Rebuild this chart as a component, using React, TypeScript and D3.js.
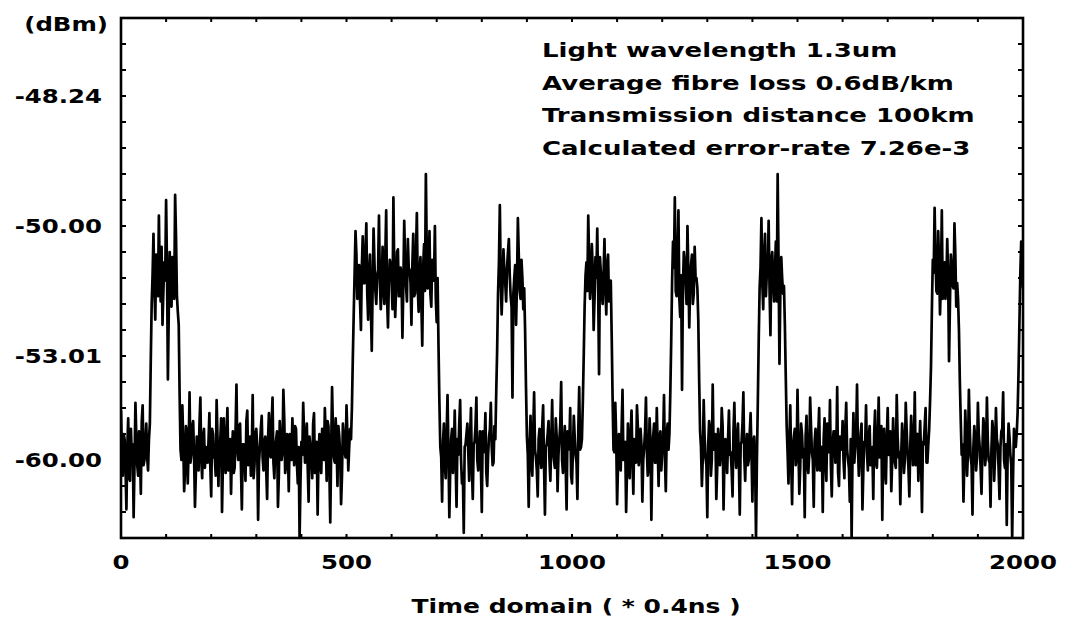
import React from "react";
import * as d3 from "d3";

// Received optical power (nW, linear). Time unit = 0.4 ns.
// Readings at samples 0, 4, 8, ... 2000 (one row per 64-sample bit slot)
const powerAt4k: number[] = [
  2.9, 0.4, 1.8, -0.9, 2.6, 0.2, 1.1, -1.2, 3.2, 0.8, 2.1, -0.3, 3.1, 1.0, 2.4, 0.6,
  2.4, 7.0, 9.7, 6.4, 8.3, 10.4, 7.1, 6.2, 8.6, 11.0, 4.1, 9.0, 6.9, 8.5, 11.2, 7.3,
  6.2, 1.4, 3.1, -0.2, 2.3, 0.1, 3.6, 1.2, 2.5, -0.8, 1.9, 0.6, 3.4, 0.3, 2.2, 1.5,
  0.9, 2.8, -0.4, 2.0, 1.1, 3.3, 0.0, 1.7, -1.0, 2.6, 0.5, 3.0, 1.4, -0.3, 2.1, 0.7,
  3.9, 1.0, 2.4, -0.9, 1.6, 0.2, 2.9, 1.3, 0.4, 3.5, 0.8, 2.2, -1.3, 1.5, 2.7, 0.6,
  1.9, -0.5, 2.8, 1.1, 3.4, 0.3, 1.8, -0.8, 2.5, 1.0, 3.7, 0.5, 2.0, -0.2, 1.4, 2.6,
  0.8, 2.2, 0.1, -2.0, 1.7, 3.2, 0.9, 2.4, -0.6, 1.5, 0.3, 2.8, 1.2, -1.1, 2.0, 0.5,
  1.6, 3.0, 0.2, 2.3, -1.4, 3.8, 1.1, 2.6, 0.0, 1.9, -0.7, 2.4, 1.3, 3.1, 0.6, 2.2,
  3.0, 6.6, 9.8, 7.2, 8.5, 6.0, 9.6, 7.8, 10.1, 6.4, 8.9, 5.2, 9.9, 7.5, 8.1, 10.4,
  6.8, 9.2, 7.0, 10.6, 6.1, 8.7, 7.9, 11.1, 6.5, 9.0, 7.3, 8.4, 5.7, 10.2, 7.7, 9.5,
  8.3, 6.2, 9.7, 7.4, 10.5, 6.7, 8.8, 5.4, 9.3, 12.0, 7.6, 9.8, 6.9, 8.6, 10.0, 6.3,
  5.4, 1.5, -0.6, 2.4, 0.3, 3.5, -1.2, 1.8, 0.5, 2.9, -0.8, 1.2, 3.3, 0.1, -1.8, 1.6,
  2.4, 0.2, 3.0, -0.5, 1.7, 3.4, 0.6, 2.1, -1.0, 1.3, 2.8, 0.0, 1.9, 3.2, 0.8, 2.3,
  3.6, 7.4, 10.8, 6.6, 9.1, 7.8, 8.4, 9.5, 7.3, 3.4, 8.0, 6.2, 10.3, 7.5, 8.7, 6.8,
  6.0, 1.9, -0.8, 2.7, 0.4, 3.6, 1.1, -0.4, 2.2, 0.7, 3.1, -1.1, 1.6, 2.5, 0.2, 3.3,
  1.0, 2.6, -0.2, 1.8, 4.0, 0.5, 2.3, -0.9, 1.4, 3.0, 0.1, 2.7, 1.2, -0.5, 3.8, 1.5,
  3.2, 6.9, 8.6, 10.4, 7.2, 9.3, 6.0, 8.8, 9.9, 4.3, 8.2, 7.0, 9.5, 6.6, 8.9, 7.6,
  5.8, 1.4, 3.2, -0.7, 2.0, 0.6, 3.7, 1.2, -1.0, 2.4, 0.3, 2.9, -0.3, 1.7, 3.1, 0.8,
  2.2, -0.6, 1.5, 3.4, 0.4, 2.6, -1.3, 1.9, 0.9, 3.0, 0.0, 2.1, 1.3, 3.5, -0.2, 2.4,
  2.0, 5.6, 9.4, 11.1, 7.3, 10.6, 6.5, 3.7, 9.0, 7.8, 10.0, 6.1, 8.5, 7.0, 9.2, 8.0,
  6.4, 2.1, 0.0, 3.3, 1.1, -1.2, 2.5, 0.4, 3.9, 1.6, -0.5, 2.2, 0.8, 3.0, -0.9, 1.8,
  0.5, 2.9, 1.3, -0.4, 3.2, 0.7, 2.4, -1.1, 1.7, 3.6, 0.2, 2.0, 1.0, 2.8, -0.6, 1.9,
  -2.0, 3.2, 7.6, 10.3, 6.8, 9.7, 8.2, 10.2, 5.8, 9.0, 7.1, 9.4, 12.0, 4.7, 8.8, 7.4,
  6.2, 2.3, 0.1, 3.1, -0.7, 1.9, 0.8, 3.7, -0.3, 2.4, 1.1, -1.2, 2.7, 0.5, 3.4, 1.3,
  -0.8, 2.2, 0.6, 3.0, 1.4, -1.0, 2.6, 0.2, 1.8, 3.3, -0.4, 2.1, 0.9, 3.8, 0.0, 1.6,
  2.5, 0.3, 3.2, 1.0, -0.6, -2.0, 2.8, 1.5, 3.9, 0.4, 2.0, -0.9, 1.7, 3.1, 0.6, 2.3,
  1.2, -0.5, 2.9, 0.7, 3.4, 1.5, -1.3, 2.2, 0.1, 3.0, 1.8, -0.2, 2.6, 0.9, 3.5, 1.1,
  -0.7, 2.4, 0.5, 3.2, 1.3, -0.4, 2.7, 0.8, 3.6, 1.9, 0.2, 2.5, -1.0, 1.6, 3.0, 0.9,
  2.2, 4.6, 8.7, 10.7, 7.5, 9.8, 6.6, 10.6, 8.1, 7.2, 9.5, 4.8, 8.9, 7.7, 10.1, 6.9,
  7.2, 4.0, 1.2, -0.6, 2.9, 0.4, 3.7, 1.1, -1.1, 2.3, 0.6, 3.2, 1.5, -0.3, 2.6, 0.8,
  3.4, 1.0, -0.8, 2.5, 0.2, 3.0, 1.6, -0.5, 2.1, 3.6, 0.7, -1.5, 2.4, 1.2, -2.0, 2.2,
  1.5, 2.8, 6.2, 9.4, 7.6,
];

// Readings at samples 2, 6, 10, ... 1998
const powerAt4kPlus2: number[] = [
  1.2, 2.0, 0.7, 1.5, 0.3, 2.2, 1.6, 0.9, 1.9, 0.4, 1.3, 2.5, 0.8, 1.7, 1.1, 1.8,
  4.8, 8.1, 7.6, 8.9, 7.3, 8.0, 9.2, 7.5, 7.9, 8.4, 6.8, 7.7, 8.8, 7.2, 9.6, 6.7,
  3.5, 1.0, 1.8, 0.6, 2.1, 1.4, 0.9, 2.3, 1.2, 0.5, 1.6, 2.4, 1.0, 1.9, 0.7, 1.3,
  1.7, 0.8, 2.2, 1.1, 0.4, 1.9, 1.5, 2.6, 0.9, 1.2, 2.0, 0.6, 1.8, 1.3, 0.5, 2.1,
  1.4, 2.3, 0.7, 1.6, 1.0, 2.5, 0.8, 1.9, 1.3, 0.3, 2.0, 1.5, 0.9, 2.2, 1.1, 1.7,
  0.6, 1.8, 1.2, 2.4, 0.9, 1.5, 2.1, 0.4, 1.7, 1.3, 2.6, 0.8, 1.4, 2.0, 1.0, 1.6,
  2.3, 0.9, 1.5, 0.2, 1.2, 2.0, 1.6, 0.7, 1.9, 1.1, 2.4, 0.5, 1.7, 1.3, 0.8, 2.2,
  1.0, 1.8, 2.5, 0.6, 1.4, 2.1, 0.9, 1.6, 2.3, 1.2, 0.4, 1.9, 1.1, 2.0, 1.5, 1.8,
  4.9, 8.2, 8.9, 7.6, 7.1, 8.4, 7.8, 9.0, 7.4, 8.1, 6.9, 7.7, 8.6, 7.0, 8.3, 7.9,
  7.5, 8.0, 8.8, 7.2, 7.9, 8.5, 6.8, 8.2, 7.6, 9.1, 7.3, 8.0, 7.7, 8.6, 7.1, 8.4,
  7.8, 8.5, 7.3, 8.9, 7.6, 8.1, 7.0, 8.4, 7.5, 9.0, 8.2, 7.4, 8.7, 7.9, 7.2, 8.0,
  3.2, 1.1, 1.7, 0.8, 2.0, 1.4, 0.6, 2.2, 1.3, 0.9, 1.8, 2.4, 1.0, 0.5, 1.5, 2.0,
  1.3, 1.9, 0.7, 1.6, 2.3, 1.0, 1.4, 0.8, 2.1, 1.7, 0.5, 1.2, 2.2, 1.5, 0.9, 1.8,
  5.2, 8.6, 8.0, 7.7, 8.3, 7.1, 9.0, 8.1, 6.9, 7.4, 8.5, 7.8, 8.9, 7.2, 8.0, 7.6,
  3.8, 1.2, 1.6, 0.9, 2.1, 1.4, 0.6, 1.8, 1.1, 2.3, 0.8, 1.5, 2.0, 1.0, 1.7, 1.3,
  0.7, 1.9, 1.2, 2.4, 1.0, 1.5, 0.8, 2.1, 1.6, 0.4, 1.3, 1.9, 0.9, 2.2, 1.4, 1.8,
  5.0, 8.1, 7.5, 8.7, 7.9, 8.3, 7.2, 8.0, 7.6, 8.8, 7.4, 8.2, 7.7, 8.5, 7.1, 7.9,
  3.4, 1.3, 1.9, 0.8, 1.5, 2.2, 1.0, 1.7, 0.6, 1.4, 2.0, 1.1, 1.8, 0.9, 2.3, 1.2,
  1.6, 1.0, 2.1, 1.3, 0.7, 1.8, 1.2, 2.4, 0.9, 1.5, 1.9, 0.6, 1.7, 1.1, 2.0, 1.4,
  3.6, 7.9, 8.4, 7.5, 8.8, 7.2, 8.1, 7.7, 8.6, 7.0, 8.3, 7.8, 8.9, 7.4, 8.0, 7.6,
  4.0, 1.5, 1.1, 1.9, 0.8, 1.6, 2.2, 1.0, 1.4, 2.0, 0.7, 1.7, 1.3, 2.3, 1.0, 1.5,
  1.8, 1.2, 0.6, 2.1, 1.4, 1.9, 0.9, 1.6, 2.4, 1.1, 1.5, 0.8, 2.0, 1.3, 1.7, 0.9,
  1.0, 5.6, 8.4, 7.8, 8.9, 7.3, 8.2, 7.6, 8.7, 7.9, 8.3, 7.1, 8.6, 7.5, 8.0, 7.7,
  4.2, 1.3, 1.8, 0.9, 1.5, 2.2, 1.1, 1.6, 0.7, 2.0, 1.4, 1.9, 0.8, 1.2, 2.3, 1.0,
  1.7, 1.1, 2.0, 0.6, 1.5, 1.8, 1.0, 2.4, 1.3, 0.8, 1.6, 2.1, 1.2, 0.5, 1.9, 1.4,
  1.0, 2.2, 1.4, 0.7, 1.8, 1.2, 0.9, 2.0, 1.5, 1.1, 2.4, 0.6, 1.6, 1.3, 1.9, 0.8,
  1.5, 2.0, 0.9, 1.7, 1.1, 2.3, 1.4, 0.6, 1.8, 1.2, 2.1, 1.0, 1.6, 0.7, 1.9, 1.3,
  1.2, 1.8, 1.0, 2.2, 0.7, 1.5, 1.9, 1.3, 0.8, 2.0, 1.4, 1.1, 1.7, 2.3, 0.9, 1.6,
  3.3, 6.8, 8.2, 8.8, 7.4, 8.5, 7.9, 7.2, 8.6, 7.7, 8.1, 7.0, 8.4, 7.6, 8.9, 7.8,
  6.0, 2.5, 1.6, 1.0, 1.9, 1.3, 2.2, 0.8, 1.5, 1.8, 1.1, 2.0, 0.7, 1.4, 2.3, 1.2,
  1.7, 0.9, 1.4, 2.1, 1.1, 1.8, 0.6, 1.5, 2.2, 1.0, 1.6, 1.3, 1.9, 0.8, 0.4, 1.5,
  2.0, 4.3, 8.1, 8.6,
];

const SAMPLE_STEP = 2;

const xTickValues = [0, 500, 1000, 1500, 2000];
const xTickLabels = ["0", "500", "1000", "1500", "2000"];
const yTickValues = [15, 10, 5, 1];
const yTickLabels = ["-48.24", "-50.00", "-53.01", "-60.00"];
const notes = [
  "Light wavelength 1.3um",
  "Average fibre loss 0.6dB/km",
  "Transmission distance 100km",
  "Calculated error-rate 7.26e-3",
];
const yUnit = "(dBm)";
const xTitle = "Time domain ( * 0.4ns )";

const FONT = "'DejaVu Sans', sans-serif";

function WideText(props: {
  x: number;
  y: number;
  anchor?: string;
  stretch?: number;
  children: React.ReactNode;
}) {
  const s = props.stretch ?? 1.22;
  return (
    <text
      transform={`translate(${props.x},${props.y}) scale(${s},1)`}
      textAnchor={props.anchor || "start"}
      fontFamily={FONT}
      fontWeight="bold"
      fontSize={20}
      fill="#000"
    >
      {props.children}
    </text>
  );
}

export default function App() {
  const W = 1069;
  const H = 623;
  const left = 121, right = 1023, top = 18, bottom = 538;

  // interleave the two reading sets into one trace in time order
  const trace = powerAt4k.flatMap((v, i) =>
    i < powerAt4kPlus2.length ? [v, powerAt4kPlus2[i]] : [v]
  );

  const x = d3.scaleLinear().domain([0, 2000]).range([left, right]);
  const y = d3.scaleLinear().domain([-2, 18]).range([bottom, top]);

  const line = d3
    .line<number>()
    .x((_, i) => x(i * SAMPLE_STEP))
    .y((d) => y(d));

  const xMinor = d3.range(0, 2001, 100);
  const yMinor = d3.range(-2, 19, 1);

  return (
    <svg
      width={W}
      height={H}
      viewBox={`0 0 ${W} ${H}`}
      style={{ position: "absolute", left: 0, top: 0, background: "#fff" }}
    >
      <rect x={0} y={0} width={W} height={H} fill="#fff" />
      <defs>
        <clipPath id="plot-area">
          <rect x={left} y={top} width={right - left} height={bottom - top} />
        </clipPath>
      </defs>

      {/* signal trace */}
      <path
        d={line(trace) || ""}
        fill="none"
        stroke="#000"
        strokeWidth={2.7}
        strokeLinejoin="round"
        clipPath="url(#plot-area)"
      />

      {/* inward ticks on all four sides */}
      <g stroke="#000" strokeWidth={2}>
        {yMinor.map((v) => (
          <g key={`y${v}`}>
            <line x1={left} x2={left + 5} y1={y(v)} y2={y(v)} />
            <line x1={right - 5} x2={right} y1={y(v)} y2={y(v)} />
          </g>
        ))}
        {xMinor.map((v) => (
          <g key={`x${v}`}>
            <line x1={x(v)} x2={x(v)} y1={top} y2={top + 4} />
            <line x1={x(v)} x2={x(v)} y1={bottom - 4} y2={bottom} />
          </g>
        ))}
      </g>

      {/* frame */}
      <rect
        x={left}
        y={top}
        width={right - left}
        height={bottom - top}
        fill="none"
        stroke="#000"
        strokeWidth={2.6}
      />

      {/* y tick labels */}
      {yTickValues.map((v, i) => (
        <WideText key={v} x={102} y={y(v) + 7} anchor="end">
          {yTickLabels[i]}
        </WideText>
      ))}
      <WideText x={108} y={31} anchor="end">
        {yUnit}
      </WideText>

      {/* x tick labels */}
      {xTickValues.map((v, i) => (
        <WideText key={v} x={x(v)} y={569} anchor="middle">
          {xTickLabels[i]}
        </WideText>
      ))}
      <WideText x={576} y={613} anchor="middle" stretch={1.25}>
        {xTitle}
      </WideText>

      {/* annotation block */}
      {notes.map((t, i) => (
        <WideText key={t} x={542} y={57 + i * 32.7} stretch={1.3}>
          {t}
        </WideText>
      ))}
    </svg>
  );
}
